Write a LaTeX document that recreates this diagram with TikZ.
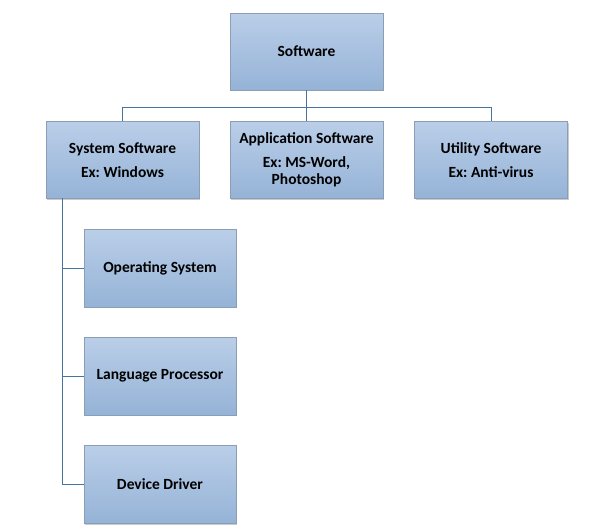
\documentclass[tikz,border=0pt]{standalone}
\usepackage{fontspec}
\setmainfont{Carlito}
\frenchspacing
\usetikzlibrary{shadows}
\definecolor{boxtop}{RGB}{186,206,232}
\definecolor{boxbot}{RGB}{149,179,215}
\definecolor{boxedge}{RGB}{140,158,180}
\definecolor{linkcol}{RGB}{70,115,160}
\tikzset{
  sbox/.style={rectangle, draw=boxedge, line width=0.8pt, top color=boxtop, bottom color=boxbot,
    minimum width=153pt, minimum height=77pt, align=center, inner sep=2pt,
    font=\fontsize{15.5}{17}\selectfont\bfseries,
    drop shadow={shadow xshift=1.2pt, shadow yshift=-1.2pt, opacity=0.35, fill=black!60}},
  link/.style={draw=linkcol, line width=1pt}
}
\begin{document}
\begin{tikzpicture}[x=1pt,y=-1pt]
\useasboundingbox (0,0) rectangle (600,530);
\node[sbox] (sw) at (306.5,51.5) {Software};
\node[sbox] (sys) at (122.5,160) {System Software\\[7pt]Ex: Windows};
\node[sbox] (app) at (306.5,160) {Application Software\\[7pt]Ex: MS-Word,\\Photoshop};
\node[sbox] (util) at (491,160) {Utility Software\\[7pt]Ex: Anti-virus};
\node[sbox, minimum width=152pt, minimum height=78pt] (os) at (160,268) {Operating System};
\node[sbox, minimum width=152pt, minimum height=78pt] (lp) at (160,376) {Language Processor};
\node[sbox, minimum width=152pt, minimum height=78pt] (dd) at (160,484.5) {Device Driver};
\coordinate (bus) at (306.5,107);
\coordinate (trunk) at (62,198);
\draw[link] (sw.south) -- (bus);
\draw[link] (bus) -- (app.north);
\draw[link] (sys.north) -- (sys.north |- bus) -- (util.north |- bus) -- (util.north);
\draw[link] (trunk) |- (dd.west);
\draw[link] (trunk |- os.west) -- (os.west);
\draw[link] (trunk |- lp.west) -- (lp.west);
\end{tikzpicture}
\end{document}
